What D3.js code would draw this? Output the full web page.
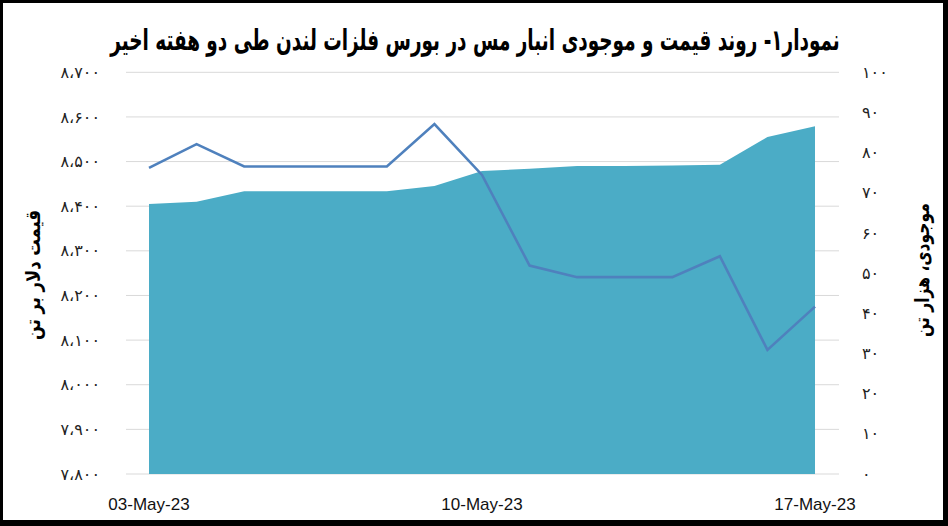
<!DOCTYPE html>
<html><head><meta charset="utf-8">
<script src="https://cdn.jsdelivr.net/npm/d3@7"></script>
<style>
html,body{margin:0;padding:0;background:#fff;}
svg{display:block;}
</style></head>
<body>
<svg id="c" width="948" height="526"></svg>
<script>
// ---- data ----
const dates = ["2023-05-03","2023-05-04","2023-05-05","2023-05-06","2023-05-07","2023-05-08","2023-05-09","2023-05-10","2023-05-11","2023-05-12","2023-05-13","2023-05-14","2023-05-15","2023-05-16","2023-05-17"];
const price = [8486, 8539, 8489, 8489, 8489, 8489, 8584, 8470, 8267, 8241, 8241, 8241, 8288, 8078, 8175];
const stock = [67.2, 67.8, 70.4, 70.4, 70.4, 70.4, 71.7, 75.4, 76.0, 76.7, 76.7, 76.8, 77.0, 83.9, 86.6];
const priceTicks = [7800, 7900, 8000, 8100, 8200, 8300, 8400, 8500, 8600, 8700];
const stockTicks = [0, 10, 20, 30, 40, 50, 60, 70, 80, 90, 100];
const xTickDates = ["2023-05-03","2023-05-10","2023-05-17"];
const title = "نمودار۱- روند قیمت و موجودی انبار مس در بورس فلزات لندن طی دو هفته اخیر";
const leftTitle = "قیمت دلار بر تن";
const rightTitle = "موجودی، هزار تن";

const parse = d3.timeParse("%Y-%m-%d");
const fa = "۰۱۲۳۴۵۶۷۸۹";
function toFa(n){
  const s = d3.format(",")(n).replace(/,/g,"،");
  return s.replace(/[0-9]/g, c => fa[+c]);
}

const svg = d3.select("#c");
const W = 948, H = 526;
const plotL = 126, plotR = 839, plotTop = 72.3, plotBottom = 474;

const x = d3.scaleTime().domain([parse(dates[0]), parse(dates[dates.length-1])]).range([149, 815]);
const yL = d3.scaleLinear().domain([7800, 8700]).range([plotBottom, plotTop]);
const yR = d3.scaleLinear().domain([0, 100]).range([plotBottom, plotTop]);

// gridlines
svg.append("g").selectAll("line").data(priceTicks).join("line")
  .attr("x1", plotL).attr("x2", plotR)
  .attr("y1", d => yL(d)).attr("y2", d => yL(d))
  .attr("stroke", "#d9d9d9").attr("stroke-width", 1);

const rows = dates.map((d,i) => ({date: parse(d), price: price[i], stock: stock[i]}));

// area
svg.append("path").datum(rows)
  .attr("fill", "#4bacc6")
  .attr("d", d3.area().x(d => x(d.date)).y0(yR(0)).y1(d => yR(d.stock)));

// line
svg.append("path").datum(rows)
  .attr("fill", "none").attr("stroke", "#4f81bd").attr("stroke-width", 2.6)
  .attr("stroke-linejoin", "miter")
  .attr("d", d3.line().x(d => x(d.date)).y(d => yL(d.price)));

// left axis labels
svg.append("g").selectAll("text").data(priceTicks).join("text")
  .attr("x", 100).attr("y", d => yL(d)).attr("dy", "0.35em")
  .attr("text-anchor", "end")
  .attr("font-family", "DejaVu Sans, sans-serif").attr("font-size", 16)
  .attr("fill", "#222")
  .text(d => toFa(d));

// right axis labels
svg.append("g").selectAll("text").data(stockTicks).join("text")
  .attr("x", 862).attr("y", d => yR(d)).attr("dy", "0.35em")
  .attr("text-anchor", "start")
  .attr("font-family", "DejaVu Sans, sans-serif").attr("font-size", 16)
  .attr("fill", "#222")
  .text(d => toFa(d));

// x axis labels
const xFmt = d3.timeFormat("%d-%b-%y");
svg.append("g").selectAll("text").data(xTickDates).join("text")
  .attr("x", d => x(parse(d))).attr("y", 510)
  .attr("text-anchor", "middle")
  .attr("font-family", "Liberation Sans, Arial, sans-serif").attr("font-size", 17)
  .attr("fill", "#111")
  .text(d => xFmt(parse(d)));

// title (condensed horizontally to match the narrow original face)
const tg = svg.append("g");
const t = tg.append("text")
  .attr("x", 0).attr("y", 0)
  .attr("text-anchor", "middle")
  .attr("font-family", "DejaVu Sans, sans-serif").attr("font-weight", "bold")
  .attr("font-size", 29).attr("fill", "#000")
  .text(title);
const tw = t.node().getComputedTextLength();
const sx = tw > 0 ? 730 / tw : 1;
tg.attr("transform", `translate(475,50) scale(${sx},1)`);

// axis titles
function vTitle(txt, cx, cy, len){
  const g = svg.append("g");
  const el = g.append("text")
    .attr("text-anchor", "middle").attr("dy", "0.35em")
    .attr("font-family", "DejaVu Sans, sans-serif").attr("font-weight", "bold")
    .attr("font-size", 20).attr("fill", "#000")
    .text(txt);
  const w = el.node().getComputedTextLength();
  const s = w > 0 ? len / w : 1;
  g.attr("transform", `translate(${cx},${cy}) rotate(-90) scale(${s},1)`);
}
vTitle(leftTitle, 33, 275, 130);
vTitle(rightTitle, 922, 270, 134);

// frame
svg.append("rect").attr("x", 1.5).attr("y", 1.5).attr("width", W - 5).attr("height", H - 6)
  .attr("fill", "none").attr("stroke", "#000").attr("stroke-width", 3);
svg.append("rect").attr("x", 0).attr("y", 520).attr("width", W).attr("height", 6).attr("fill", "#000");
svg.append("rect").attr("x", 943).attr("y", 0).attr("width", 5).attr("height", H).attr("fill", "#000");
</script>
</body></html>
